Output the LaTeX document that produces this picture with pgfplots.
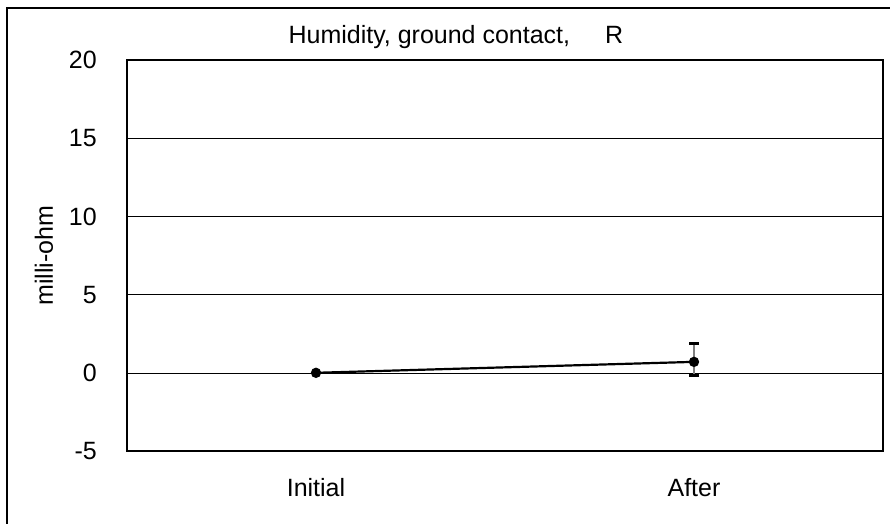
\documentclass[border=0pt]{standalone}
\usepackage{fontspec}
\setmainfont{Liberation Sans}
\usepackage{pgfplots}
\pgfplotsset{compat=1.18}
\begin{document}
\begin{tikzpicture}[font=\fontsize{25}{29}\selectfont]
\useasboundingbox (0,0) rectangle (890pt,-523pt);
\draw[line width=1.4pt] (7pt,-540pt) -- (7pt,-8pt) -- (910pt,-8pt);
\begin{axis}[
  at={(127pt,-451pt)}, anchor=south west,
  scale only axis, width=756pt, height=391pt,
  xmin=-0.5, xmax=1.5, ymin=-5, ymax=20,
  xtick={0,1}, xticklabels={Initial,After},
  ytick={-5,0,5,10,15,20}, yticklabels={-5,0,5,10,15,20},
  major tick length=0pt,
  ymajorgrids, grid style={black, line width=0.6pt},
  axis line style={line width=1.6pt},
  tick label style={font=\fontsize{25}{29}\selectfont},
  xticklabel style={anchor=base, yshift=-45pt},
  yticklabel style={anchor=east, inner sep=0pt, xshift=-30pt},
  ylabel={milli-ohm},
  ylabel style={at={(axis description cs:-0.11,0.5)}, anchor=center, font=\fontsize{25}{29}\selectfont},
  title={Humidity, ground contact,\hspace{28pt} R},
  title style={at={(axis description cs:0.435,1.028)}, anchor=base, yshift=0pt, font=\fontsize{25}{29}\selectfont},
]
\addplot[draw=none, forget plot, mark=none,
  error bars/.cd, y dir=both, y explicit,
  error bar style={gray, line width=1.4pt},
  error mark options={black, rotate=90, mark size=5pt, line width=3pt}]
  coordinates {(1,0.7) += (0,1.2) -= (0,0.9)};
\addplot[black, line width=2.2pt, mark=*, mark size=4pt] coordinates {(0,0) (1,0.7)};
\end{axis}
\end{tikzpicture}
\end{document}
